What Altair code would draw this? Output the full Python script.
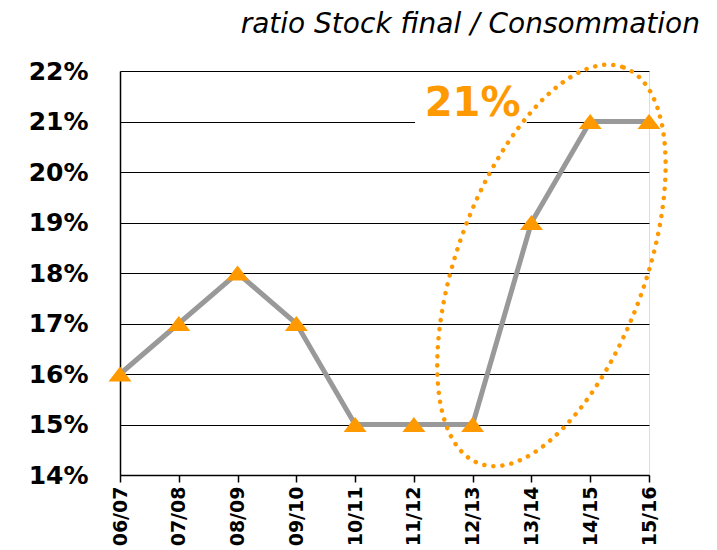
import json
import altair as alt
import pandas as pd

# ---- data ----
seasons = ["06/07", "07/08", "08/09", "09/10", "10/11", "11/12", "12/13", "13/14", "14/15", "15/16"]
ratio = [0.16, 0.17, 0.18, 0.17, 0.15, 0.15, 0.15, 0.19, 0.21, 0.21]

title_text = "ratio Stock final / Consommation"
callout_text = ["21%"]
callout_x = [6.0]          # in category-index units
callout_y = [0.2135]
mask_x = [5.02]
mask_x2 = [6.92]
mask_y = [0.21]
ellipse_x = [7.34]
ellipse_y = [0.1815]

ORANGE = "#FF9900"
GREY = "#999999"

df = pd.DataFrame({"idx": list(range(len(seasons))), "season": seasons, "ratio": ratio})
label_expr = json.dumps(seasons) + "[datum.value]"

x_scale = alt.Scale(domain=[0, len(seasons) - 1], nice=False, zero=False)
y_scale = alt.Scale(domain=[0.14, 0.22], nice=False, zero=False)

x_axis = alt.Axis(values=list(range(len(seasons))), labelExpr=label_expr, labelAngle=-90,
                  grid=False, domainColor="black", domainWidth=1.5, tickColor="black",
                  tickWidth=1.5, tickSize=7, labelPadding=4, labelFont="DejaVu Sans",
                  labelFontWeight="bold", labelFontSize=19, labelColor="black", title=None)
y_axis = alt.Axis(values=[0.14, 0.15, 0.16, 0.17, 0.18, 0.19, 0.20, 0.21, 0.22], format=".0%",
                  grid=True, gridColor="black", gridWidth=1, gridOpacity=1, ticks=False,
                  domainColor="black", domainWidth=1.5, labelPadding=32,
                  labelFont="DejaVu Sans", labelFontWeight="bold", labelFontSize=25,
                  labelColor="black", title=None)

base = alt.Chart(df)

line = base.mark_line(color=GREY, strokeWidth=5).encode(
    x=alt.X("idx:Q", scale=x_scale, axis=x_axis),
    y=alt.Y("ratio:Q", scale=y_scale, axis=y_axis),
)

tri_path = "M 0,-0.65 L 1,0.65 L -1,0.65 Z"
points = base.mark_point(shape=tri_path, filled=True, size=529, color=ORANGE, opacity=1).encode(
    x="idx:Q", y="ratio:Q"
)

mask = alt.Chart(pd.DataFrame({"x": mask_x, "x2": mask_x2, "y": mask_y})).mark_rule(
    color="white", strokeWidth=4
).encode(x="x:Q", x2="x2:Q", y="y:Q")

callout = alt.Chart(pd.DataFrame({"x": callout_x, "y": callout_y, "t": callout_text})).mark_text(
    font="DejaVu Sans", fontWeight="bold", fontSize=40, color=ORANGE, align="center", baseline="middle"
).encode(x="x:Q", y="y:Q", text="t:N")

k = 0.447
c = 0.5523
ell_path = (f"M 0,-1 C {k*c:.4f},-1 {k},-{c} {k},0 C {k},{c} {k*c:.4f},1 0,1 "
            f"C -{k*c:.4f},1 -{k},{c} -{k},0 C -{k},-{c} -{k*c:.4f},-1 0,-1 Z")
ellipse = alt.Chart(pd.DataFrame({"x": ellipse_x, "y": ellipse_y})).mark_point(
    shape=ell_path, size=177760, angle=20, filled=False, stroke=ORANGE, strokeWidth=4.5,
    strokeDash=[0.1, 9], strokeCap="round", opacity=1
).encode(x="x:Q", y="y:Q")

chart = alt.layer(mask, line, points, callout, ellipse).properties(
    width=529, height=404,
    title=alt.TitleParams(title_text, anchor="end", frame="group", dx=51, offset=17,
                          font="DejaVu Sans", fontStyle="italic", fontWeight="normal",
                          fontSize=28, color="black"),
    autosize=alt.AutoSizeParams(type="none"),
    padding={"left": 112, "top": 63, "right": 60, "bottom": 75},
).configure_view(stroke=None).configure(background="white")

chart.save("out.html", embed_options={"renderer": "svg", "actions": False})
